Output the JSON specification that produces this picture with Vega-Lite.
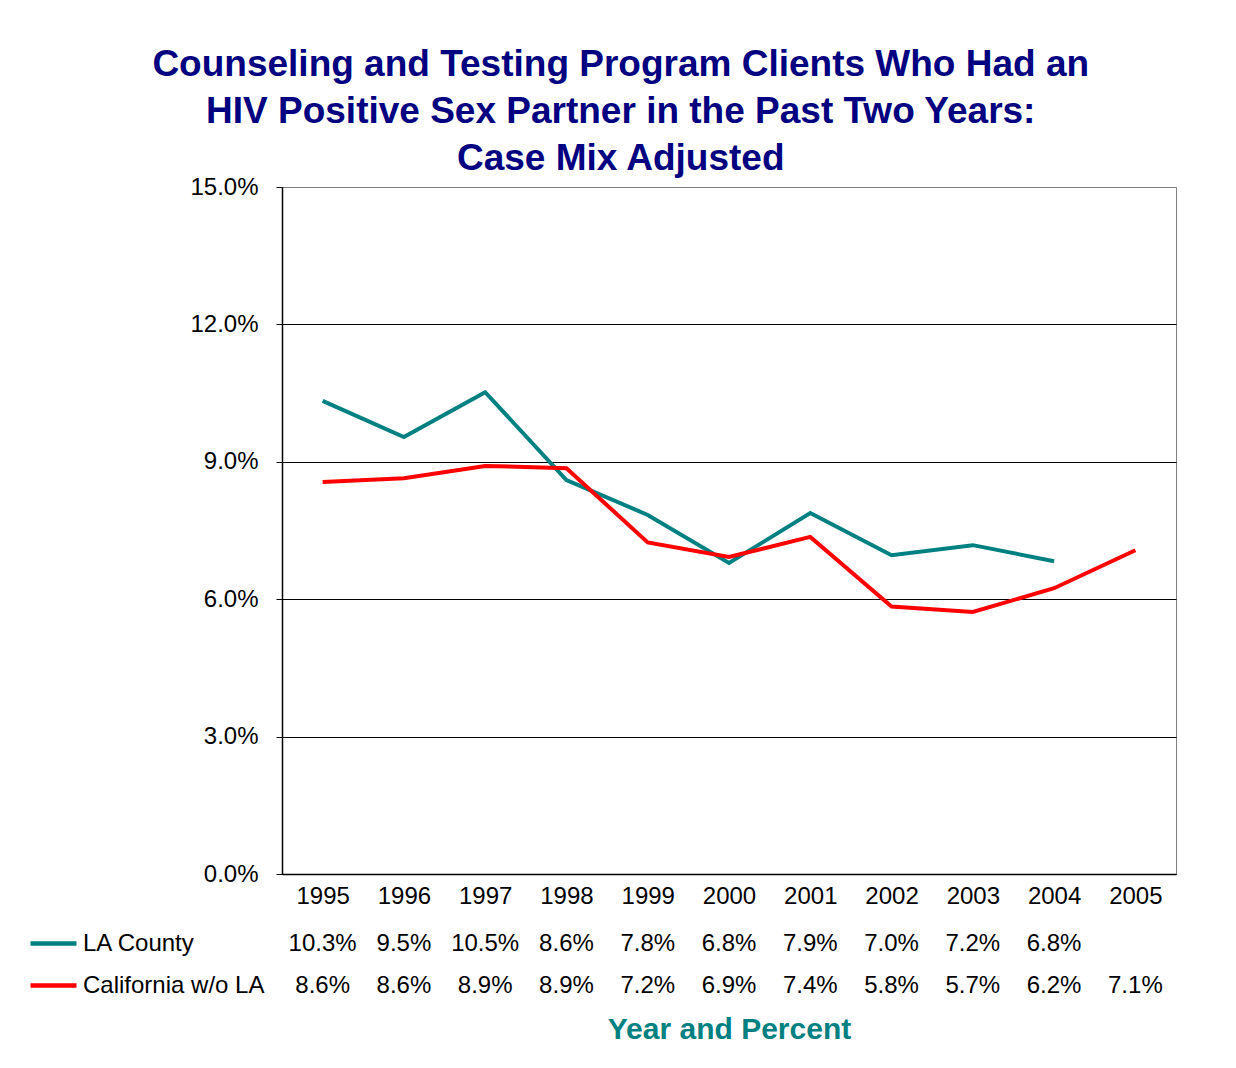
{
  "$schema": "https://vega.github.io/schema/vega-lite/v6.json",
  "padding": {"left": 33, "top": 45, "right": 10, "bottom": 10},
  "background": "white",
  "config": {
    "font": "Liberation Sans",
    "text": {"font": "Liberation Sans"}
  },
  "title": {
    "text": ["Counseling and Testing Program Clients Who Had an", "HIV Positive Sex Partner in the Past Two Years:", "Case Mix Adjusted"],
    "fontSize": 37,
    "font": "Liberation Sans",
    "fontWeight": "bold",
    "color": "#000080",
    "lineHeight": 47,
    "anchor": "middle",
    "offset": -3,
    "dx": 16
  },
  "data": {
    "values": [
      {"year": "1995", "series": "LA County", "value": 0.1033},
      {"year": "1996", "series": "LA County", "value": 0.0954},
      {"year": "1997", "series": "LA County", "value": 0.1052},
      {"year": "1998", "series": "LA County", "value": 0.0860},
      {"year": "1999", "series": "LA County", "value": 0.0784},
      {"year": "2000", "series": "LA County", "value": 0.0679},
      {"year": "2001", "series": "LA County", "value": 0.0788},
      {"year": "2002", "series": "LA County", "value": 0.0696},
      {"year": "2003", "series": "LA County", "value": 0.0718},
      {"year": "2004", "series": "LA County", "value": 0.0683},
      {"year": "1995", "series": "California w/o LA", "value": 0.0856},
      {"year": "1996", "series": "California w/o LA", "value": 0.0864},
      {"year": "1997", "series": "California w/o LA", "value": 0.0891},
      {"year": "1998", "series": "California w/o LA", "value": 0.0886},
      {"year": "1999", "series": "California w/o LA", "value": 0.0724},
      {"year": "2000", "series": "California w/o LA", "value": 0.0692},
      {"year": "2001", "series": "California w/o LA", "value": 0.0736},
      {"year": "2002", "series": "California w/o LA", "value": 0.0584},
      {"year": "2003", "series": "California w/o LA", "value": 0.0572},
      {"year": "2004", "series": "California w/o LA", "value": 0.0624},
      {"year": "2005", "series": "California w/o LA", "value": 0.0707}
    ]
  },
  "spacing": 14,
  "resolve": {"scale": {"color": "independent"}, "legend": {"color": "independent"}},
  "vconcat": [
    {
      "width": 894,
      "height": 687,
      "view": {"stroke": "#808080", "strokeWidth": 1},
      "mark": {"type": "line", "strokeWidth": 4},
      "encoding": {
        "x": {
          "field": "year", "type": "ordinal",
          "scale": {"type": "point", "padding": 0.5, "domain": ["1995","1996","1997","1998","1999","2000","2001","2002","2003","2004","2005"]},
          "axis": {"title": null, "labelAngle": 0, "ticks": false, "domain": true, "domainColor": "black", "domainWidth": 1.5, "grid": false, "labelFontSize": 24, "labelColor": "black", "labelPadding": 10}
        },
        "y": {
          "field": "value", "type": "quantitative",
          "scale": {"domain": [0, 0.15], "nice": false, "zero": true},
          "axis": {
            "title": null, "format": ".1%", "values": [0, 0.03, 0.06, 0.09, 0.12, 0.15],
            "tickSize": 6, "tickColor": "black", "domainColor": "black", "domainWidth": 1.5,
            "grid": true, "gridColor": {"condition": {"test": "datum.value >= 0.149", "value": "#808080"}, "value": "black"}, "gridWidth": 1, "gridOpacity": 1,
            "labelFontSize": 24, "labelColor": "black", "labelPadding": 18
          }
        },
        "color": {
          "field": "series", "type": "nominal",
          "scale": {"domain": ["LA County", "California w/o LA"], "range": ["#008080", "#FF0000"]},
          "legend": null
        }
      }
    },
    {
      "width": 894,
      "height": 84,
      "view": {"stroke": null},
      "encoding": {
        "x": {
          "field": "year", "type": "ordinal",
          "scale": {"type": "point", "padding": 0.5, "domain": ["1995","1996","1997","1998","1999","2000","2001","2002","2003","2004","2005"]},
          "axis": {"labels": false, "ticks": false, "domain": false, "grid": false, "title": "Year and Percent", "titleColor": "#008080", "titleFontSize": 30, "titleFontWeight": "bold", "titlePadding": 7}
        },
        "y": {
          "field": "series", "type": "nominal",
          "scale": {"type": "point", "padding": 0.5, "domain": ["LA County", "California w/o LA"]},
          "axis": null
        }
      },
      "layer": [
        {
          "mark": {"type": "line", "opacity": 0, "strokeWidth": 4},
          "encoding": {
            "color": {
              "field": "series", "type": "nominal",
              "scale": {"domain": ["LA County", "California w/o LA"], "range": ["#008080", "#FF0000"]},
              "legend": {
                "orient": "left", "title": null, "symbolType": "stroke", "symbolSize": 2116,
                "symbolStrokeWidth": 4.5, "labelLimit": 0,
                "labelFontSize": 24, "labelColor": "black", "labelOffset": 4,
                "rowPadding": 4, "offset": 22, "padding": -5,
                "encode": {"symbols": {"update": {"opacity": {"value": 1}, "strokeOpacity": {"value": 1}}}}
              }
            }
          }
        },
        {
          "mark": {"type": "text", "fontSize": 24, "fill": "black"},
          "encoding": {
            "text": {"field": "value", "type": "quantitative", "format": ".1%"}
          }
        }
      ]
    }
  ]
}
